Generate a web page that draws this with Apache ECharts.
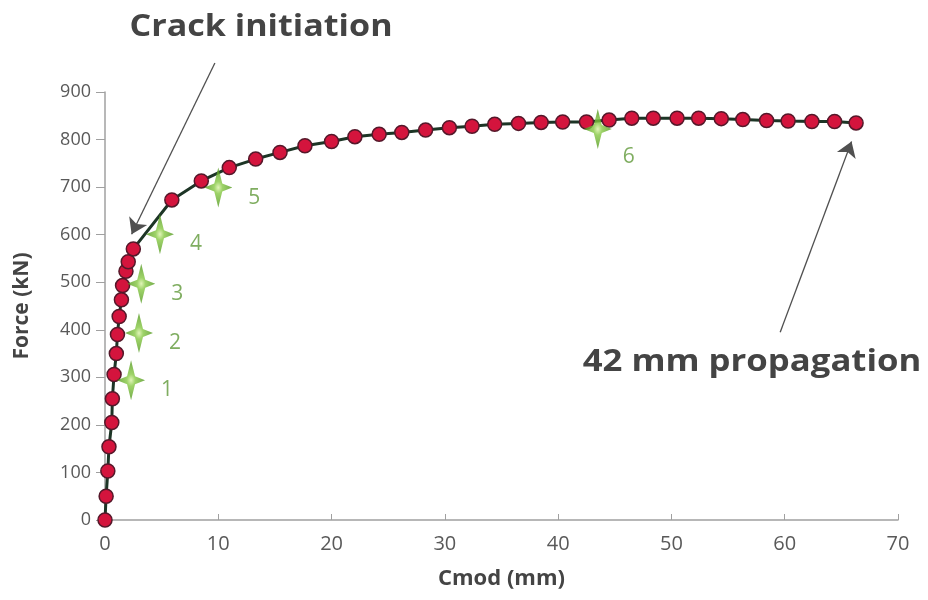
<!DOCTYPE html>
<html>
<head>
<meta charset="utf-8">
<script src="https://cdn.jsdelivr.net/npm/echarts@6/dist/echarts.min.js"></script>
<style>
  html, body { margin: 0; padding: 0; background: #fff; }
  #chart { width: 928px; height: 600px; }
</style>
</head>
<body>
<div id="chart"></div>
<script>
// Force vs crack mouth opening displacement
const cmod = [0, 0.1, 0.25, 0.35, 0.6, 0.65, 0.8, 1.0, 1.1, 1.25, 1.45, 1.55, 1.85, 2.05, 2.5,
  5.9, 8.5, 10.97, 13.3, 15.45, 17.65, 20.0, 22.06, 24.2, 26.2, 28.3, 30.4, 32.4, 34.4, 36.5,
  38.5, 40.4, 42.5, 44.5, 46.5, 48.4, 50.5, 52.4, 54.4, 56.3, 58.4, 60.3, 62.4, 64.4, 66.3];
const force = [0, 50, 103, 154, 205, 255, 306, 350, 390, 428, 463, 493, 523, 543, 570,
  673, 713, 741, 759, 773, 787, 796, 806, 811, 815, 820, 825, 828, 832, 834,
  836, 837, 837, 841, 845, 845, 845, 845, 844, 842, 840, 839, 838, 838, 835];

// Acoustic event markers
const eventCmod = [2.3, 3.0, 3.2, 4.85, 10.0, 43.5];
const eventForce = [294, 393, 497, 601, 699, 822];
const eventNames = ['1', '2', '3', '4', '5', '6'];

// Annotation arrows, in data units: [from, to]
const crackArrow = [[9.7, 961], [2.35, 601]];
const propagationArrow = [[59.6, 395], [65.9, 796]];

const FONT = 'Open Sans';

const curveData = cmod.map((x, i) => [x, force[i]]);
const eventData = eventCmod.map((x, i) => ({
  value: [x, eventForce[i]],
  name: eventNames[i],
  label: i === 5 ? { offset: [31, 28] } : undefined
}));

const starPath = 'path://M0,-20 L4,-4 L14,0 L4,4 L0,20 L-4,4 L-14,0 L-4,-4 Z';

const chart = echarts.init(document.getElementById('chart'), null, { renderer: 'canvas' });

chart.setOption({
  animation: false,
  backgroundColor: '#ffffff',
  grid: { left: 105, right: 30, top: 92, bottom: 80 },
  xAxis: {
    type: 'value',
    min: 0, max: 70, interval: 10,
    name: 'Cmod (mm)',
    nameLocation: 'middle',
    nameGap: 48,
    nameTextStyle: { fontFamily: FONT, fontWeight: 'bold', fontSize: 22, color: '#444444' },
    axisLine: { lineStyle: { color: '#a0a0a0', width: 1.5 } },
    axisTick: { inside: true, length: 6, lineStyle: { color: '#a0a0a0' } },
    axisLabel: { fontFamily: FONT, fontSize: 20, color: '#595959', margin: 14 },
    splitLine: { show: false }
  },
  yAxis: {
    type: 'value',
    min: 0, max: 900, interval: 100,
    name: 'Force (kN)',
    nameLocation: 'middle',
    nameRotate: 90,
    nameGap: 72,
    nameTextStyle: { fontFamily: FONT, fontWeight: 'bold', fontSize: 21, color: '#444444' },
    axisLine: { show: true, lineStyle: { color: '#a0a0a0', width: 1.5 } },
    axisTick: { show: true, length: 9, lineStyle: { color: '#a0a0a0' } },
    axisLabel: { fontFamily: FONT, fontSize: 18, color: '#595959', margin: 14 },
    splitLine: { show: false }
  },
  series: [
    {
      type: 'line',
      data: curveData,
      symbol: 'circle',
      symbolSize: 14,
      showAllSymbol: true,
      lineStyle: { color: '#1d3526', width: 3 },
      itemStyle: { color: '#d4143d', borderColor: '#55182a', borderWidth: 1.5 },
      z: 3
    },
    {
      type: 'scatter',
      data: eventData,
      symbol: starPath,
      symbolSize: [28, 40],
      itemStyle: {
        color: {
          type: 'radial', x: 0.5, y: 0.5, r: 0.5,
          colorStops: [
            { offset: 0, color: '#d9f2a6' },
            { offset: 0.3, color: '#86c843' },
            { offset: 1, color: '#4f951c' }
          ]
        }
      },
      label: {
        show: true,
        formatter: '{b}',
        position: 'inside',
        offset: [36, 10],
        fontFamily: FONT,
        fontSize: 21,
        color: '#5f9838'
      },
      z: 4
    },
    {
      type: 'lines',
      coordinateSystem: 'cartesian2d',
      clip: false,
      polyline: false,
      symbol: ['none', 'arrow'],
      symbolSize: [0, 15],
      lineStyle: { color: '#505050', width: 1.3, opacity: 1 },
      data: [{ coords: crackArrow }, { coords: propagationArrow }],
      z: 5
    }
  ],
  graphic: [
    {
      type: 'text',
      x: 261, y: 27,
      scaleX: 1.1,
      style: {
        text: 'Crack initiation',
        font: 'bold 31px "Open Sans"',
        fill: '#444444',
        textAlign: 'center',
        textVerticalAlign: 'middle'
      }
    },
    {
      type: 'text',
      x: 752, y: 362,
      scaleX: 1.12,
      style: {
        text: '42 mm propagation',
        font: 'bold 31px "Open Sans"',
        fill: '#444444',
        textAlign: 'center',
        textVerticalAlign: 'middle'
      }
    }
  ]
});
</script>
</body>
</html>
